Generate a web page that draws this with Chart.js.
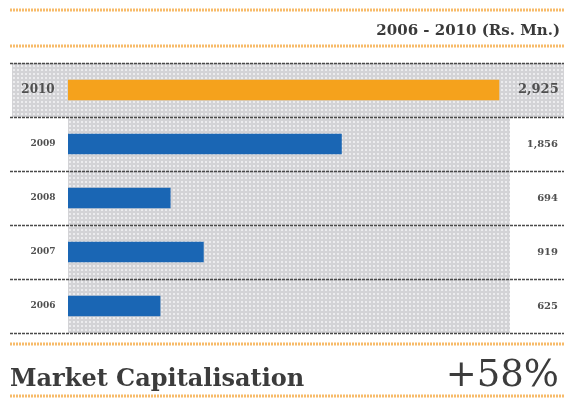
<!DOCTYPE html>
<html>
<head>
<meta charset="utf-8">
<script src="https://cdn.jsdelivr.net/npm/chart.js@4"></script>
<style>
  html, body { margin: 0; padding: 0; background: #fff; }
  #wrap { width: 564px; height: 401px; position: relative; }
</style>
</head>
<body>
<div id="wrap"><canvas id="marketCapChart" width="564" height="401"></canvas></div>
<script>
// market capitalisation, Rs. Mn.
const years = ["2010", "2009", "2008", "2007", "2006"];
const marketCap = [2925, 1856, 694, 919, 625];
const barColors = ["#f5a21c", "#1a66b4", "#1a66b4", "#1a66b4", "#1a66b4"];
const headerText = "2006 - 2010 (Rs. Mn.)";
const footerTitle = "Market Capitalisation";
const footerGrowth = "+58%";

const SERIF = "'DejaVu Serif', 'Liberation Serif', serif";
const ORANGE_LINE = "#f7bb6a";
const ROW_LINE = "#4a4a4a";

// halftone-like grey fill for the plot rows
function makeDotPattern(ctx) {
  const tile = document.createElement("canvas");
  tile.width = 4;
  tile.height = 4;
  const t = tile.getContext("2d");
  t.fillStyle = "#d3d3d6";
  t.fillRect(0, 0, 4, 4);
  t.fillStyle = "#ececee";
  t.fillRect(1, 1, 2, 2);
  return ctx.createPattern(tile, "repeat");
}

function orangeLine(ctx, y) {
  ctx.save();
  ctx.strokeStyle = ORANGE_LINE;
  ctx.lineWidth = 3;
  ctx.setLineDash([2, 1]);
  ctx.beginPath();
  ctx.moveTo(10, y);
  ctx.lineTo(564, y);
  ctx.stroke();
  ctx.restore();
}

const panelPlugin = {
  id: "panel",
  beforeDraw(chart) {
    const { ctx, chartArea } = chart;
    const yScale = chart.scales.y;
    const step = yScale.getPixelForValue(1) - yScale.getPixelForValue(0);
    const pattern = makeDotPattern(ctx);

    ctx.save();
    ctx.fillStyle = "#ffffff";
    ctx.fillRect(0, 0, chart.width, chart.height);

    orangeLine(ctx, 10);
    orangeLine(ctx, 46);
    orangeLine(ctx, 344);
    orangeLine(ctx, 396);

    // grey band behind the bars; latest year spans the full width
    ctx.fillStyle = pattern;
    ctx.fillRect(chartArea.left, chartArea.top, chartArea.right - chartArea.left, chartArea.bottom - chartArea.top);
    ctx.fillRect(12, chartArea.top, 552, step);

    // dashed row separators
    ctx.strokeStyle = ROW_LINE;
    ctx.lineWidth = 1.5;
    ctx.setLineDash([3, 1]);
    for (let i = 0; i <= years.length; i++) {
      const y = Math.round(yScale.getPixelForValue(i) - step / 2) + 0.5;
      ctx.beginPath();
      ctx.moveTo(10, y);
      ctx.lineTo(564, y);
      ctx.stroke();
    }
    ctx.restore();
  },
  afterDatasetsDraw(chart) {
    const { ctx } = chart;
    const yScale = chart.scales.y;
    ctx.save();
    ctx.textBaseline = "middle";
    years.forEach((year, i) => {
      const y = yScale.getPixelForValue(i);
      const big = i === 0;
      ctx.fillStyle = "#505050";
      ctx.textAlign = "center";
      ctx.font = "bold " + (big ? 12 : 9) + "px " + SERIF;
      ctx.fillText(year, big ? 38 : 43, y);
      ctx.textAlign = big ? "left" : "right";
      ctx.font = "bold " + (big ? 13 : 10) + "px " + SERIF;
      ctx.fillText(marketCap[i].toLocaleString("en-US"), big ? 518 : 558, y);
    });

    // header and footer
    ctx.fillStyle = "#3a3a3a";
    ctx.textAlign = "right";
    ctx.textBaseline = "alphabetic";
    ctx.font = "bold 15px " + SERIF;
    ctx.fillText(headerText, 560, 35);

    ctx.textAlign = "left";
    ctx.font = "bold 24px " + SERIF;
    ctx.fillStyle = "#3c3c3c";
    ctx.fillText(footerTitle, 10, 386);
    ctx.textAlign = "right";
    ctx.font = "37px " + SERIF;
    ctx.fillText(footerGrowth, 559, 386);
    ctx.restore();
  },
};

const data = {
  labels: years,
  datasets: [
    {
      data: marketCap,
      backgroundColor: barColors,
      borderWidth: 0,
      barThickness: 20,
    },
  ],
};

const config = {
  type: "bar",
  data: data,
  options: {
    indexAxis: "y",
    responsive: false,
    animation: false,
    layout: { padding: { left: 68, right: 54, top: 63, bottom: 68 } },
    plugins: {
      legend: { display: false },
      tooltip: { enabled: false },
    },
    scales: {
      x: { display: false, min: 0, max: 3000 },
      y: { display: false },
    },
  },
  plugins: [panelPlugin],
};

const marketCapChart = new Chart(document.querySelector("#marketCapChart"), config);
</script>
</body>
</html>
